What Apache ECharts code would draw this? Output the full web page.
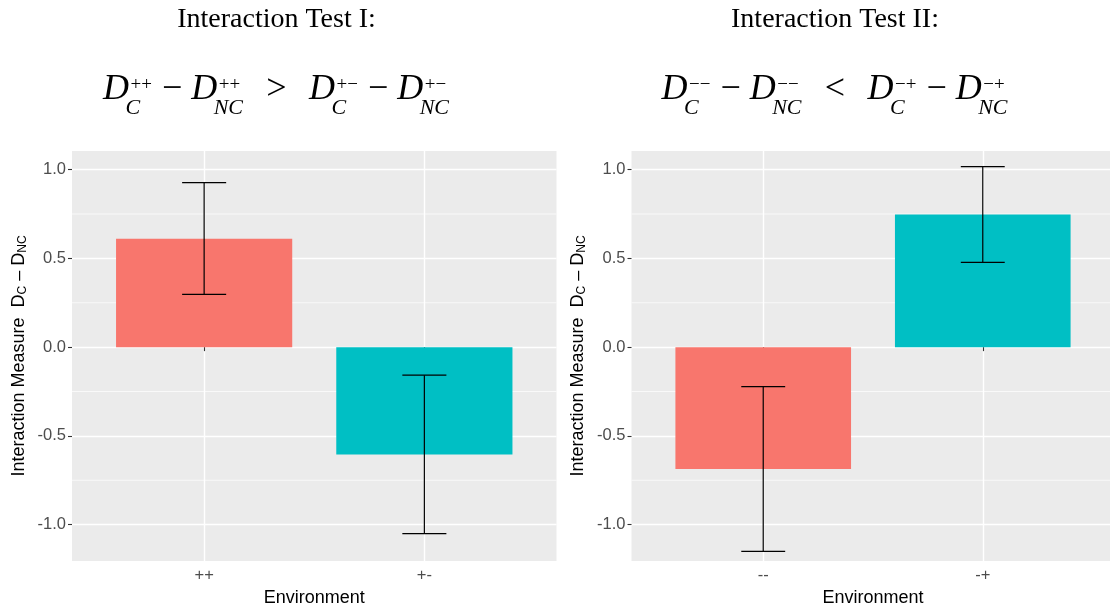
<!DOCTYPE html>
<html>
<head>
<meta charset="utf-8">
<script src="https://cdn.jsdelivr.net/npm/echarts@6/dist/echarts.min.js"></script>
<style>
  html, body { margin: 0; padding: 0; background: #ffffff; }
  #chart { width: 1110px; height: 607px; }
</style>
</head>
<body>
<div id="chart"></div>
<script>
// ---- data ----
const envI = ['++', '+-'];
const meanI = [0.611, -0.605];
const lowI = [0.297, -1.051];
const highI = [0.927, -0.158];

const envII = ['--', '-+'];
const meanII = [-0.686, 0.747];
const lowII = [-1.151, 0.478];
const highII = [-0.223, 1.017];

const fillColors = ['#F8766D', '#00BFC4'];

const yMajorTicks = [-1.0, -0.5, 0.0, 0.5, 1.0];
const yMinorTicks = [-0.75, -0.25, 0.25, 0.75];
const xTickPositions = [1, 2];

const titles = ['Interaction Test I:', 'Interaction Test II:'];
const formulaI = [
  { base: 'D', sup: '++', sub: 'C' }, { op: '\u2212' }, { base: 'D', sup: '++', sub: 'NC' },
  { rel: '>' },
  { base: 'D', sup: '+\u2212', sub: 'C' }, { op: '\u2212' }, { base: 'D', sup: '+\u2212', sub: 'NC' }
];
const formulaII = [
  { base: 'D', sup: '\u2212\u2212', sub: 'C' }, { op: '\u2212' }, { base: 'D', sup: '\u2212\u2212', sub: 'NC' },
  { rel: '<' },
  { base: 'D', sup: '\u2212+', sub: 'C' }, { op: '\u2212' }, { base: 'D', sup: '\u2212+', sub: 'NC' }
];

// ---- layout constants ----
const X_MIN = 0.4, X_MAX = 2.6;     // discrete axis with 0.6 expansion
const Y_MIN = -1.205, Y_MAX = 1.105;
const BAR_HALF = 0.4, CAP_HALF = 0.1;
const panelBg = '#EBEBEB';
const SANS = '"Liberation Sans", Arial, sans-serif';
const SERIF = '"Liberation Serif", "Times New Roman", serif';

const grids = [
  { left: 72, top: 151, width: 484.5, height: 410 },
  { left: 631.5, top: 151, width: 483, height: 410 }
];
const headerCenters = [276.5, 835];

// ---- text measurement for the header formulas ----
const measureCtx = document.createElement('canvas').getContext('2d');
function textWidth(str, style, size) {
  measureCtx.font = style + ' ' + size + 'px ' + SERIF;
  return measureCtx.measureText(str).width;
}

function formulaElements(tokens, cx, baseline) {
  const F = 36, SUP = 19, SUB = 22;
  const pieces = [];
  let x = 0;
  tokens.forEach(t => {
    if (t.base) {
      pieces.push({ text: t.base, x: x, base: 0, size: F, italic: true });
      x += textWidth(t.base, 'italic', F);
      const wSup = textWidth(t.sup, 'normal', SUP);
      const wSub = textWidth(t.sub, 'italic', SUB);
      pieces.push({ text: t.sup, x: x + 1.5, base: -11, size: SUP, italic: false });
      pieces.push({ text: t.sub, x: x - 3.5, base: 14, size: SUB, italic: true });
      x += Math.max(wSup + 1.5, wSub - 3.5) + 1;
    } else {
      const sym = t.op || t.rel;
      const gap = t.op ? F * 0.25 : F * 0.62;
      x += gap;
      pieces.push({ text: sym, x: x, base: 0, size: F, italic: false });
      x += textWidth(sym, 'normal', F) + gap;
    }
  });
  const left = cx - x / 2;
  return pieces.map(p => ({
    type: 'text',
    x: left + p.x,
    y: baseline + p.base - 0.3375 * p.size,
    silent: true,
    style: {
      text: p.text,
      fill: '#000000',
      fontSize: p.size,
      fontFamily: SERIF,
      fontStyle: p.italic ? 'italic' : 'normal',
      align: 'left',
      verticalAlign: 'middle'
    }
  }));
}

function headerElements() {
  const els = [];
  titles.forEach((t, i) => {
    els.push({
      type: 'text', x: headerCenters[i], y: 29 - 0.3375 * 28, silent: true,
      style: { text: t, fill: '#000000', fontSize: 28, fontFamily: SERIF, align: 'center', verticalAlign: 'middle' }
    });
  });
  return els
    .concat(formulaElements(formulaI, headerCenters[0], 102))
    .concat(formulaElements(formulaII, headerCenters[1], 102));
}

// ---- axes ----
function xAxisFor(i, cats) {
  return {
    type: 'value', gridIndex: i, min: X_MIN, max: X_MAX,
    name: 'Environment', nameLocation: 'middle', nameGap: 23,
    nameTextStyle: { color: '#000000', fontSize: 18, fontFamily: SANS },
    axisLine: { show: false },
    axisTick: { show: true, customValues: xTickPositions, length: 4, lineStyle: { color: '#333333', width: 1.1 } },
    axisLabel: {
      customValues: xTickPositions, margin: 6, color: '#4D4D4D', fontSize: 16.5, fontFamily: SANS,
      formatter: v => cats[Math.round(v) - 1]
    },
    splitLine: { show: true, lineStyle: { color: '#FFFFFF', width: 1.4 } }
  };
}

function yAxisFor(i) {
  return {
    type: 'value', gridIndex: i, min: Y_MIN, max: Y_MAX,
    name: '{t|Interaction Measure  D}{s|C}{t| \u2013 D}{s|NC}',
    nameLocation: 'middle', nameGap: 42, nameRotate: 90,
    nameTextStyle: {
      color: '#000000', fontFamily: SANS,
      rich: {
        t: { fontSize: 18, lineHeight: 22, fontFamily: SANS, color: '#000000' },
        s: { fontSize: 12, lineHeight: 12, padding: [7, 0, 0, 0], fontFamily: SANS, color: '#000000' }
      }
    },
    axisLine: { show: false },
    axisTick: { show: true, customValues: yMajorTicks, length: 4, lineStyle: { color: '#333333', width: 1.1 } },
    axisLabel: {
      customValues: yMajorTicks, margin: 6, color: '#4D4D4D', fontSize: 16.5, fontFamily: SANS,
      formatter: v => v.toFixed(1)
    },
    splitLine: { show: true, lineStyle: { color: '#FFFFFF', width: 1.4 } }
  };
}

// ---- series ----
function minorGridSeries(i) {
  return {
    type: 'custom', xAxisIndex: i, yAxisIndex: i, z: 1, silent: true,
    data: yMinorTicks.map(v => [v]),
    dimensions: ['y'],
    encode: { y: 0 },
    renderItem(params, api) {
      const v = api.value(0);
      const p0 = api.coord([X_MIN, v]);
      const p1 = api.coord([X_MAX, v]);
      return {
        type: 'line',
        shape: { x1: p0[0], y1: p0[1], x2: p1[0], y2: p1[1] },
        style: { stroke: '#FFFFFF', lineWidth: 0.7 }
      };
    }
  };
}

function barSeries(i, means) {
  return {
    type: 'custom', xAxisIndex: i, yAxisIndex: i, z: 3, silent: true,
    data: means.map((m, k) => [xTickPositions[k], m]),
    renderItem(params, api) {
      const x = api.value(0), y = api.value(1);
      const a = api.coord([x - BAR_HALF, 0]);
      const b = api.coord([x + BAR_HALF, y]);
      return {
        type: 'rect',
        shape: { x: a[0], y: Math.min(a[1], b[1]), width: b[0] - a[0], height: Math.abs(b[1] - a[1]) },
        style: { fill: fillColors[params.dataIndex] }
      };
    }
  };
}

function errorSeries(i, lows, highs) {
  return {
    type: 'custom', xAxisIndex: i, yAxisIndex: i, z: 4, silent: true,
    data: lows.map((lo, k) => [xTickPositions[k], lo, highs[k]]),
    encode: { x: 0, y: [1, 2] },
    renderItem(params, api) {
      const x = api.value(0);
      const lo = api.coord([x, api.value(1)]);
      const hi = api.coord([x, api.value(2)]);
      const loL = api.coord([x - CAP_HALF, api.value(1)]);
      const loR = api.coord([x + CAP_HALF, api.value(1)]);
      const hiL = api.coord([x - CAP_HALF, api.value(2)]);
      const hiR = api.coord([x + CAP_HALF, api.value(2)]);
      const st = { stroke: '#000000', lineWidth: 1.2 };
      return {
        type: 'group',
        children: [
          { type: 'line', shape: { x1: lo[0], y1: lo[1], x2: hi[0], y2: hi[1] }, style: st },
          { type: 'line', shape: { x1: loL[0], y1: loL[1], x2: loR[0], y2: loR[1] }, style: st },
          { type: 'line', shape: { x1: hiL[0], y1: hiL[1], x2: hiR[0], y2: hiR[1] }, style: st }
        ]
      };
    }
  };
}

const chart = echarts.init(document.getElementById('chart'), null, { renderer: 'canvas' });
chart.setOption({
  animation: false,
  backgroundColor: '#FFFFFF',
  grid: grids.map(g => Object.assign({
    show: true, backgroundColor: panelBg, borderWidth: 0,
    containLabel: false, outerBoundsMode: 'none'
  }, g)),
  xAxis: [xAxisFor(0, envI), xAxisFor(1, envII)],
  yAxis: [yAxisFor(0), yAxisFor(1)],
  series: [
    minorGridSeries(0), minorGridSeries(1),
    barSeries(0, meanI), barSeries(1, meanII),
    errorSeries(0, lowI, highI), errorSeries(1, lowII, highII)
  ],
  graphic: { elements: headerElements() }
});
</script>
</body>
</html>
